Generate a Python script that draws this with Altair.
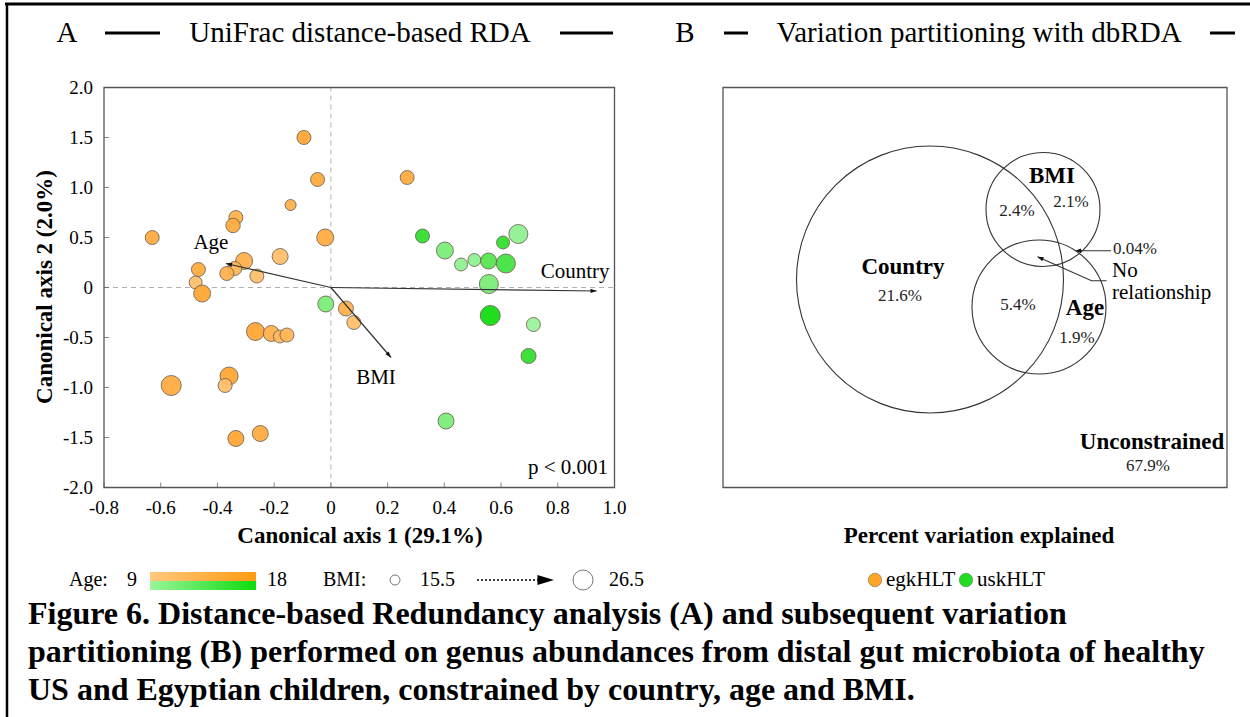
import math

import altair as alt
import pandas as pd

FONT = "Liberation Serif"

# ---------------- Panel A: UniFrac distance-based RDA ----------------
# Egyptian children (egkHLT): site scores on canonical axes 1/2, age (years), BMI
egk_ax1 = [-0.095, -0.047, -0.142, -0.335, -0.345, -0.630, -0.020, -0.179, -0.306,
           -0.339, -0.367, -0.467, -0.261, -0.477, -0.454, 0.269, 0.053, 0.081,
           -0.266, -0.210, -0.180, -0.155, -0.359, -0.373, -0.563, -0.335, -0.249]
egk_ax2 = [1.50, 1.08, 0.825, 0.70, 0.62, 0.50, 0.50, 0.31, 0.265,
           0.19, 0.14, 0.18, 0.115, 0.05, -0.06, 1.10, -0.21, -0.35,
           -0.44, -0.46, -0.49, -0.475, -0.885, -0.98, -0.98, -1.51, -1.46]
egk_age = [16, 15, 14, 14, 15, 15, 15, 11, 14,
           13, 14, 15, 11, 11, 16, 15, 14, 11,
           16, 14, 12, 13, 16, 11, 15, 16, 15]
egk_bmi = [19.0, 19.0, 16.3, 19.0, 19.5, 19.0, 22.4, 21.2, 22.4,
           19.0, 19.0, 19.0, 19.0, 18.0, 22.4, 19.0, 20.1, 19.0,
           23.7, 21.2, 18.0, 19.0, 23.7, 19.0, 26.5, 21.2, 21.2]

# US children (uskHLT)
usk_ax1 = [0.323, 0.402, 0.459, 0.506, 0.556, 0.617, 0.607, 0.661, 0.557,
           -0.018, 0.562, 0.714, 0.697, 0.406]
usk_ax2 = [0.515, 0.37, 0.23, 0.275, 0.265, 0.24, 0.45, 0.535, 0.035,
           -0.165, -0.28, -0.37, -0.685, -1.335]
usk_age = [17, 12, 10, 10, 15, 16, 17, 10, 12, 12, 18, 9, 17, 12]
usk_bmi = [19.0, 22.4, 18.0, 18.0, 21.2, 25.1, 18.0, 25.1, 25.1,
           21.2, 26.5, 19.0, 20.1, 21.2]

# Constraining variables (biplot arrows)
arrow_var = ["Country", "Age", "BMI"]
arrow_ax1 = [0.937, -0.370, 0.212]
arrow_ax2 = [-0.035, 0.240, -0.700]

x_ticks = [-0.8, -0.6, -0.4, -0.2, 0.0, 0.2, 0.4, 0.6, 0.8, 1.0]
x_tick_labels = ["-0.8", "-0.6", "-0.4", "-0.2", "0", "0.2", "0.4", "0.6", "0.8", "1.0"]
y_ticks = [2.0, 1.5, 1.0, 0.5, 0.0, -0.5, -1.0, -1.5, -2.0]
y_tick_labels = ["2.0", "1.5", "1.0", "0.5", "0", "-0.5", "-1.0", "-1.5", "-2.0"]

age_range = [9, 18]
bmi_range = [15.5, 26.5]

# ---------------- Panel B: variation partitioning ----------------
venn_sets = ["Country", "BMI", "Age"]
venn_cx = [41.4, 64.0, 63.2]
venn_cy = [41.6, 55.6, 36.1]
venn_r = [26.7, 11.4, 13.4]

fraction_name = ["Country only", "Country+BMI", "BMI only", "Country+Age", "Age only",
                 "BMI+Age", "Unconstrained"]
fraction_pct = [21.6, 2.4, 2.1, 5.4, 1.9, 0.04, 67.9]

caption_lines = [
    "Figure 6. Distance-based Redundancy analysis (A) and subsequent variation",
    "partitioning (B) performed on genus abundances from distal gut microbiota of healthy",
    "US and Egyptian children, constrained by country, age and BMI.",
]

ORANGE = ["#FFC97E", "#FF9A12"]
GREEN = ["#9AF59A", "#0EDC0E"]

one = pd.DataFrame({"k": [0]})

# scales of panel A
XA = alt.Scale(domain=[-0.8, 1.0], range=[104, 614.5], nice=False, zero=False)
YA = alt.Scale(domain=[-2.0, 2.0], range=[487.5, 87.5], nice=False, zero=False)
SIZE = alt.Scale(domain=bmi_range, range=[100, 400], zero=False)
PX_X = (614.5 - 104) / 1.8
PX_Y = 400 / 4.0

# scales of panel B (5 px per unit)
XB = alt.Scale(domain=[0, 100.8], range=[723, 1227], nice=False, zero=False)
YB = alt.Scale(domain=[0, 80], range=[487.5, 87.5], nice=False, zero=False)
# a circle symbol of area-size s has radius sqrt(s)/2, so radius r units -> (2*5*r)^2
RADIUS_SIZE = alt.Scale(type="pow", exponent=2, domain=[0, 100.8], range=[0, 1008 ** 2])

HEAD = "M0,0L-0.35,1L0.35,1Z"


def xa(f):
    return alt.X(f, type="quantitative", scale=XA, axis=None)


def ya(f):
    return alt.Y(f, type="quantitative", scale=YA, axis=None)


def xb(f):
    return alt.X(f, type="quantitative", scale=XB, axis=None)


def yb(f):
    return alt.Y(f, type="quantitative", scale=YB, axis=None)


def label(t, x, y, size, bold=False, align="center", baseline="middle", angle=0):
    return alt.Chart(one).mark_text(
        text=t, font=FONT, fontSize=size, fontWeight="bold" if bold else "normal",
        align=align, baseline=baseline, angle=angle, color="black",
    ).encode(x=alt.value(x), y=alt.value(y))


def hline(x1, x2, y, width=1.0, dash=None):
    kw = dict(color="black", strokeWidth=width)
    if dash:
        kw["strokeDash"] = dash
    return alt.Chart(one).mark_rule(**kw).encode(
        x=alt.value(x1), x2=alt.value(x2), y=alt.value(y))


def vline(x, y1, y2, width=1.0):
    return alt.Chart(one).mark_rule(color="black", strokeWidth=width).encode(
        x=alt.value(x), y=alt.value(y1), y2=alt.value(y2))


# ---------- panel A layers ----------
frame_a = alt.Chart(pd.DataFrame({"x0": [-0.8], "x1": [1.0], "y0": [-2.0], "y1": [2.0]})).mark_rect(
    fillOpacity=0, stroke="#555555", strokeWidth=1.3
).encode(x=xa("x0"), x2="x1", y=ya("y0"), y2="y1")

zero_v = alt.Chart(pd.DataFrame({"x": [0.0], "y0": [-2.0], "y1": [2.0]})).mark_rule(
    color="#b0b0b0", strokeDash=[5, 4], strokeWidth=1
).encode(x=xa("x"), y=ya("y0"), y2="y1")
zero_h = alt.Chart(pd.DataFrame({"y": [0.0], "x0": [-0.8], "x1": [1.0]})).mark_rule(
    color="#b0b0b0", strokeDash=[5, 4], strokeWidth=1
).encode(y=ya("y"), x=xa("x0"), x2="x1")

xt = pd.DataFrame({"v": x_ticks, "lab": x_tick_labels, "base": -2.0})
yt = pd.DataFrame({"v": y_ticks, "lab": y_tick_labels, "base": -0.8})
x_tick_marks = alt.Chart(xt).mark_tick(orient="vertical", size=5, thickness=1, color="#555555",
                                       yOffset=-2.5).encode(x=xa("v"), y=ya("base"))
y_tick_marks = alt.Chart(yt).mark_tick(orient="horizontal", size=5, thickness=1, color="#555555",
                                       xOffset=2.5).encode(y=ya("v"), x=xa("base"))
x_tick_text = alt.Chart(xt).mark_text(font=FONT, fontSize=19, dy=20, color="black").encode(
    x=xa("v"), y=ya("base"), text="lab:N")
y_tick_text = alt.Chart(yt).mark_text(font=FONT, fontSize=19, dx=-11, align="right",
                                      color="black").encode(y=ya("v"), x=xa("base"), text="lab:N")

arrows = pd.DataFrame({"var": arrow_var, "ax1": arrow_ax1, "ax2": arrow_ax2,
                       "o": [0.0] * len(arrow_var)})
arrows["ang"] = [math.degrees(math.atan2(a * PX_X, b * PX_Y)) % 360
                 for a, b in zip(arrow_ax1, arrow_ax2)]
arrow_lines = alt.Chart(arrows).mark_rule(color="#333333", strokeWidth=1.2).encode(
    x=xa("o"), y=ya("o"), x2="ax1", y2="ax2")
arrow_heads = alt.Chart(arrows).mark_point(shape=HEAD, filled=True, color="#111111", size=150,
                                           opacity=1).encode(
    x=xa("ax1"), y=ya("ax2"), angle=alt.Angle("ang:Q", scale=None))

arrow_label_pos = pd.DataFrame({"var": arrow_var, "lx": [0.861, -0.423, 0.159],
                                "ly": [0.155, 0.445, -0.905]})
arrow_text = alt.Chart(arrow_label_pos).mark_text(font=FONT, fontSize=21, color="black").encode(
    x=xa("lx"), y=ya("ly"), text="var:N")

p_text = alt.Chart(pd.DataFrame({"t": ["p < 0.001"], "x": [0.977], "y": [-1.805]})).mark_text(
    font=FONT, fontSize=21, align="right", color="black").encode(x=xa("x"), y=ya("y"), text="t:N")

egk = pd.DataFrame({"ax1": egk_ax1, "ax2": egk_ax2, "age": egk_age, "bmi": egk_bmi})
usk = pd.DataFrame({"ax1": usk_ax1, "ax2": usk_ax2, "age": usk_age, "bmi": usk_bmi})
pt_style = dict(stroke="#6a5d50", strokeWidth=0.9, opacity=0.93)
egk_pts = alt.Chart(egk).mark_circle(**pt_style).encode(
    x=xa("ax1"), y=ya("ax2"),
    color=alt.Color("age:Q", scale=alt.Scale(domain=age_range, range=ORANGE), legend=None),
    size=alt.Size("bmi:Q", scale=SIZE, legend=None))
usk_pts = alt.Chart(usk).mark_circle(**pt_style).encode(
    x=xa("ax1"), y=ya("ax2"),
    color=alt.Color("age:Q", scale=alt.Scale(domain=age_range, range=GREEN), legend=None),
    size=alt.Size("bmi:Q", scale=SIZE, legend=None))

# BMI size key shares the size scale of the points
bmi_key_small = alt.Chart(pd.DataFrame({"bmi": [bmi_range[0]]})).mark_point(
    shape="circle", filled=False, color="#777777", strokeWidth=1, opacity=1).encode(
    x=alt.value(395), y=alt.value(580), size=alt.Size("bmi:Q", scale=SIZE, legend=None))
bmi_key_big = alt.Chart(pd.DataFrame({"bmi": [bmi_range[1]]})).mark_point(
    shape="circle", filled=False, color="#777777", strokeWidth=1, opacity=1).encode(
    x=alt.value(583), y=alt.value(580), size=alt.Size("bmi:Q", scale=SIZE, legend=None))

panel_a = alt.layer(
    zero_v, zero_h, frame_a, x_tick_marks, y_tick_marks, x_tick_text, y_tick_text,
    egk_pts, usk_pts, arrow_lines, arrow_heads, arrow_text, p_text,
    bmi_key_small, bmi_key_big,
).resolve_scale(color="independent")

# ---------- panel B layers ----------
frame_b = alt.Chart(pd.DataFrame({"x0": [0.0], "x1": [100.8], "y0": [0.0], "y1": [80.0]})).mark_rect(
    fillOpacity=0, stroke="#555555", strokeWidth=1.3
).encode(x=xb("x0"), x2="x1", y=yb("y0"), y2="y1")

venn = pd.DataFrame({"set": venn_sets, "cx": venn_cx, "cy": venn_cy, "r": venn_r})
venn_circles = alt.Chart(venn).mark_point(
    shape="circle", filled=False, color="#333333", strokeWidth=1.1, opacity=1
).encode(
    x=xb("cx"), y=yb("cy"),
    size=alt.Size("r:Q", scale=RADIUS_SIZE, legend=None),
)

set_labels = pd.DataFrame({"t": ["Country", "BMI", "Age", "Unconstrained"],
                           "x": [36.0, 65.8, 72.4, 85.8], "y": [44.1, 62.3, 36.0, 9.1]})
set_text = alt.Chart(set_labels).mark_text(font=FONT, fontSize=23, fontWeight="bold",
                                           color="black").encode(x=xb("x"), y=yb("y"), text="t:N")

frac = pd.DataFrame({"name": fraction_name, "pct": fraction_pct})
frac["t"] = [("%.2f%%" % v) if v < 0.1 else ("%.1f%%" % v) for v in fraction_pct]
frac["x"] = [35.4, 58.8, 69.6, 59.0, 70.8, 78.0, 85.0]
frac["y"] = [38.3, 55.3, 57.1, 36.5, 29.9, 47.8, 4.3]
frac["al"] = ["center"] * 5 + ["left", "center"]
frac_c = alt.Chart(frac[frac.al == "center"]).mark_text(font=FONT, fontSize=17, color="#222222").encode(
    x=xb("x"), y=yb("y"), text="t:N")
frac_l = alt.Chart(frac[frac.al == "left"]).mark_text(font=FONT, fontSize=17, align="left",
                                                      color="#222222").encode(
    x=xb("x"), y=yb("y"), text="t:N")

no_rel = alt.Chart(pd.DataFrame({"t": ["No", "relationship"], "x": [77.8, 77.8],
                                 "y": [43.3, 39.0]})).mark_text(
    font=FONT, fontSize=21, align="left", color="black").encode(x=xb("x"), y=yb("y"), text="t:N")

leaders = pd.DataFrame({
    "id": ["shared", "shared", "none", "none", "none"],
    "seq": [0, 1, 0, 1, 2],
    "x": [77.6, 70.8, 76.7, 73.7, 62.9],
    "y": [47.36, 47.36, 41.36, 41.36, 46.16],
})
leader_lines = alt.Chart(leaders).mark_line(color="#333333", strokeWidth=1.1).encode(
    x=xb("x"), y=yb("y"), detail="id:N", order="seq:Q")
tips = pd.DataFrame({"x": [70.4, 62.9], "y": [47.36, 46.16],
                     "ang": [math.degrees(math.atan2(70.4 - 77.6, 0.0)) % 360,
                             math.degrees(math.atan2((62.9 - 73.7) * 5, (46.16 - 41.36) * 5)) % 360]})
leader_heads = alt.Chart(tips).mark_point(shape=HEAD, filled=True, color="#111111", size=150,
                                          opacity=1).encode(
    x=xb("x"), y=yb("y"), angle=alt.Angle("ang:Q", scale=None))

panel_b = alt.layer(frame_b, venn_circles, set_text, frac_c, frac_l, no_rel, leader_lines,
                    leader_heads)

# ---------- page furniture: titles, keys, caption ----------
grad_orange = alt.LinearGradient(gradient="linear", x1=0, x2=1, y1=0, y2=0,
                                 stops=[alt.GradientStop(color=ORANGE[0], offset=0),
                                        alt.GradientStop(color=ORANGE[1], offset=1)])
grad_green = alt.LinearGradient(gradient="linear", x1=0, x2=1, y1=0, y2=0,
                                stops=[alt.GradientStop(color=GREEN[0], offset=0),
                                       alt.GradientStop(color=GREEN[1], offset=1)])
age_bar_o = alt.Chart(one).mark_rect(color=grad_orange).encode(
    x=alt.value(150), x2=alt.value(256), y=alt.value(572), y2=alt.value(581))
age_bar_g = alt.Chart(one).mark_rect(color=grad_green).encode(
    x=alt.value(150), x2=alt.value(256), y=alt.value(581), y2=alt.value(590))

key_arrow_head = alt.Chart(one).mark_point(shape="M0,0L-0.3,1L0.3,1Z", filled=True, color="black",
                                           size=1100, angle=90, opacity=1).encode(
    x=alt.value(554), y=alt.value(580))
country_dot_o = alt.Chart(one).mark_circle(color="#FFA526", size=180, opacity=1, stroke="#8a7a60",
                                           strokeWidth=0.7).encode(x=alt.value(875), y=alt.value(580))
country_dot_g = alt.Chart(one).mark_circle(color="#22DD22", size=180, opacity=1, stroke="#5a8a5a",
                                           strokeWidth=0.7).encode(x=alt.value(966), y=alt.value(580))

furniture = [
    hline(5, 1250, 4, width=3),
    vline(7, 3, 717, width=2.5),
    # panel titles
    label("A", 67, 33, 29),
    hline(105, 160, 33, width=3),
    label("UniFrac distance-based RDA", 360, 33, 29),
    hline(560, 613, 33, width=3),
    label("B", 685, 33, 29),
    hline(724, 748, 33, width=3),
    label("Variation partitioning with dbRDA", 979, 33, 29),
    hline(1210, 1235, 33, width=3),
    # axis titles
    label("Canonical axis 1 (29.1%)", 360, 536, 23, bold=True),
    label("Canonical axis 2 (2.0%)", 45, 287, 23, bold=True, angle=270),
    label("Percent variation explained", 979, 536, 23, bold=True),
    # keys
    label("Age:", 69, 580, 20, align="left"),
    label("9", 132, 580, 20),
    age_bar_o, age_bar_g,
    label("18", 277, 580, 20),
    label("BMI:", 323, 580, 20, align="left"),
    label("15.5", 420, 580, 20, align="left"),
    hline(477, 545, 580, width=1.6, dash=[2, 2]),
    key_arrow_head,
    label("26.5", 609, 580, 20, align="left"),
    country_dot_o, label("egkHLT", 886, 580, 21, align="left"),
    country_dot_g, label("uskHLT", 977, 580, 21, align="left"),
]
for i, line in enumerate(caption_lines):
    furniture.append(label(line, 28, 624 + 38 * i, 32, bold=True, align="left",
                           baseline="alphabetic"))

chart = alt.layer(panel_a, panel_b, *furniture).resolve_scale(
    x="independent", y="independent", size="independent"
).properties(
    width=1250, height=717, padding=0, background="white",
    autosize=alt.AutoSizeParams(type="none"),
).configure_view(stroke=None)

chart.save("out.html", embed_options={"renderer": "svg", "actions": False})
